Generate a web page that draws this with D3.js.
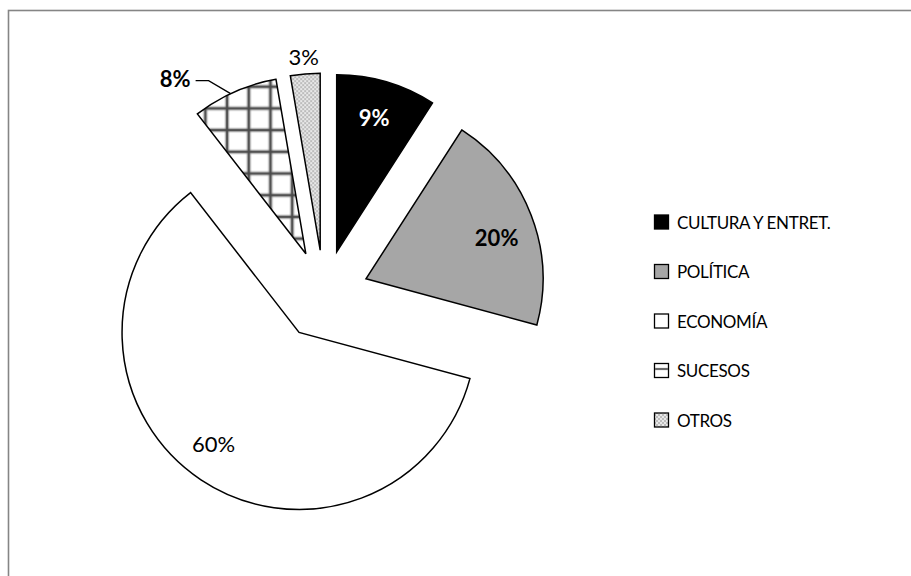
<!DOCTYPE html>
<html>
<head>
<meta charset="utf-8">
<script src="https://cdn.jsdelivr.net/npm/d3@7"></script>
<style>
  html, body { margin: 0; padding: 0; background: #fff; }
  svg { display: block; }
</style>
</head>
<body>
<svg id="chart" width="911" height="576"></svg>
<script>
// ---- data ----
const categories = ["CULTURA Y ENTRET.", "POLÍTICA", "ECONOMÍA", "SUCESOS", "OTROS"];
const values = [9.1, 20.1, 60.3, 7.8, 2.7];
const labels = ["9%", "20%", "60%", "8%", "3%"];

// ---- styling / layout (not data) ----
const fills = ["#000000", "#a6a6a6", "#ffffff", "url(#grid)", "url(#dots)"];
const labelBold = [true, true, false, true, false];
const labelColor = ["#ffffff", "#000000", "#000000", "#000000", "#000000"];
const fontFam = "Lato, 'Open Sans', 'Liberation Sans', sans-serif";

const svg = d3.select("#chart");

// frame (top and left edges visible)
svg.append("rect")
  .attr("x", 8.5).attr("y", 10.5)
  .attr("width", 1000).attr("height", 1000)
  .attr("fill", "#fff")
  .attr("stroke", "#858585").attr("stroke-width", 1.6);

// patterns
const defs = svg.append("defs");
const P = 21.7;
const gp = defs.append("pattern").attr("id", "grid")
  .attr("patternUnits", "userSpaceOnUse")
  .attr("x", 225).attr("y", 115)
  .attr("width", P).attr("height", P);
gp.append("rect").attr("width", P).attr("height", P).attr("fill", "#fff");
const gl = [[0, 0, P, 0], [0, 0, 0, P], [0, P, P, P], [P, 0, P, P]];
gl.forEach(l => {
  gp.append("line").attr("x1", l[0]).attr("y1", l[1]).attr("x2", l[2]).attr("y2", l[3])
    .attr("stroke", "#5f5f5f").attr("stroke-width", 4.5).attr("stroke-opacity", 0.5);
});
gl.forEach(l => {
  gp.append("line").attr("x1", l[0]).attr("y1", l[1]).attr("x2", l[2]).attr("y2", l[3])
    .attr("stroke", "#4a4a4a").attr("stroke-width", 1.8);
});

const dp = defs.append("pattern").attr("id", "dots")
  .attr("patternUnits", "userSpaceOnUse")
  .attr("width", 4).attr("height", 4);
dp.append("rect").attr("width", 4).attr("height", 4).attr("fill", "#e8e8e8");
dp.append("circle").attr("cx", 1).attr("cy", 1).attr("r", 0.8).attr("fill", "#858585");
dp.append("circle").attr("cx", 3).attr("cy", 3).attr("r", 0.8).attr("fill", "#858585");

// pie geometry
const cx = 324, cy = 295, R = 177, explode = 45;
const pie = d3.pie().sort(null).value(d => d).startAngle(0).endAngle(2 * Math.PI);
const arcs = pie(values);
const arc = d3.arc().innerRadius(0).outerRadius(R);

function offset(d) {
  const m = (d.startAngle + d.endAngle) / 2;
  return [cx + explode * Math.sin(m), cy - explode * Math.cos(m)];
}

const g = svg.append("g");
g.selectAll("path.slice").data(arcs).enter().append("path")
  .attr("class", "slice")
  .attr("transform", d => `translate(${offset(d)})`)
  .attr("d", arc)
  .attr("fill", (d, i) => fills[i])
  .attr("stroke", "#000")
  .attr("stroke-width", 1.5)
  .attr("stroke-linejoin", "miter");

// inside labels (slices 0,1,2)
const labelArc = d3.arc().innerRadius(140).outerRadius(140);
const nudge = [[-2, 0], [0, 9], [-8, -5]];
[0, 1, 2].forEach(i => {
  const d = arcs[i];
  const o = offset(d);
  const c = labelArc.centroid(d);
  svg.append("text")
    .attr("x", o[0] + c[0] + nudge[i][0])
    .attr("y", o[1] + c[1] + nudge[i][1])
    .attr("text-anchor", "middle")
    .attr("dominant-baseline", "central")
    .attr("font-family", fontFam)
    .attr("font-size", 22)
    .attr("font-weight", labelBold[i] ? "bold" : "normal")
    .attr("fill", labelColor[i])
    .text(labels[i]);
});

// 3% label outside slice 4
{
  const d = arcs[4];
  const o = offset(d);
  const m = (d.startAngle + d.endAngle) / 2;
  const rr = R + 17;
  svg.append("text")
    .attr("x", o[0] + rr * Math.sin(m))
    .attr("y", o[1] - rr * Math.cos(m))
    .attr("text-anchor", "middle")
    .attr("dominant-baseline", "central")
    .attr("font-family", fontFam)
    .attr("font-size", 22)
    .attr("fill", "#000")
    .text(labels[4]);
}

// 8% label with leader line (slice 3)
{
  const d = arcs[3];
  const o = offset(d);
  const m = d.startAngle + (d.endAngle - d.startAngle) * 0.45;
  const px = o[0] + R * Math.sin(m), py = o[1] - R * Math.cos(m);
  const kx = px - 22, ky = py - 13;
  const ex = kx - 13;
  svg.append("polyline")
    .attr("points", `${px},${py} ${kx},${ky} ${ex},${ky}`)
    .attr("fill", "none").attr("stroke", "#000").attr("stroke-width", 1.3);
  svg.append("text")
    .attr("x", ex - 5)
    .attr("y", ky - 2)
    .attr("text-anchor", "end")
    .attr("dominant-baseline", "central")
    .attr("font-family", fontFam)
    .attr("font-size", 22)
    .attr("font-weight", "bold")
    .attr("fill", "#000")
    .text(labels[3]);
}

// legend
const ly = d3.scalePoint().domain(categories).range([222, 420]);
const lg = svg.append("g");
categories.forEach((c, i) => {
  const y = ly(c);
  if (i === 3) {
    lg.append("rect").attr("x", 654.5).attr("y", y - 7).attr("width", 14).attr("height", 14)
      .attr("fill", "#fff").attr("stroke", "#000").attr("stroke-width", 1.3);
    lg.append("line").attr("x1", 655).attr("x2", 668).attr("y1", y - 1.5).attr("y2", y - 1.5)
      .attr("stroke", "#6a6a6a").attr("stroke-width", 2.2);
  } else {
    lg.append("rect").attr("x", 654.5).attr("y", y - 7).attr("width", 14).attr("height", 14)
      .attr("fill", fills[i]).attr("stroke", "#000").attr("stroke-width", 1.3);
  }
  lg.append("text")
    .attr("x", 677).attr("y", y)
    .attr("dominant-baseline", "central")
    .attr("font-family", fontFam)
    .attr("font-size", 17)
    .attr("letter-spacing", -0.35)
    .attr("fill", "#000")
    .text(c);
});
</script>
</body>
</html>
